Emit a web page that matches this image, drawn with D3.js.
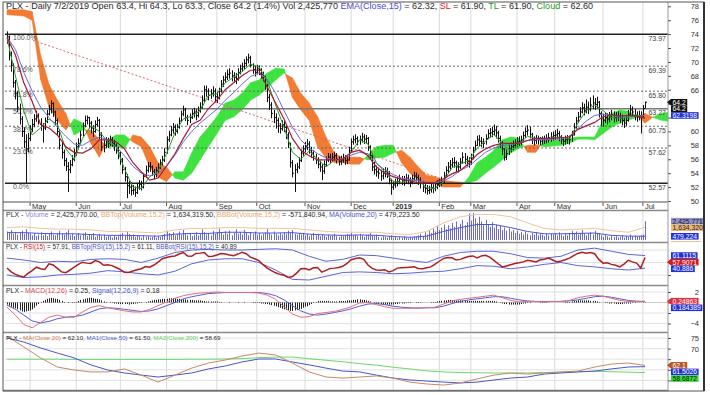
<!DOCTYPE html>
<html>
<head>
<meta charset="utf-8">
<title>PLX daily</title>
<script src="https://cdn.jsdelivr.net/npm/d3@7"></script>
<style>
  body { margin: 0; background: #fff; }
  svg { display: block; font-family: "Liberation Sans", Arial, sans-serif; }
</style>
</head>
<body>
<div id="chart"></div>
<script>
// PLX daily, 16 Apr 2018 - 2 Jul 2019. One value per trading day unless a step is noted.

var hi = [74.4,73.8,71.5,69.8,67.4,65.8,64.0,62.2,60.6,59.6,
59.8,60.9,61.8,62.5,63.0,62.6,61.9,61.2,62.0,63.1,
63.8,64.5,64.2,63.0,61.9,60.3,58.6,57.4,56.2,55.6,
55.9,56.6,57.5,58.4,59.0,60.1,61.3,62.3,62.3,62.1,
61.5,60.9,61.6,62.1,61.8,59.9,58.8,59.2,59.1,59.4,
59.2,58.8,58.3,57.8,57.2,56.2,54.9,53.9,52.9,52.7,
52.3,52.1,52.6,53.0,52.9,54.0,55.1,55.6,55.6,55.1,
54.6,54.9,55.4,56.0,56.5,57.6,59.3,60.1,60.8,61.2,
61.0,61.1,62.0,63.0,63.7,63.4,62.4,62.6,63.2,63.4,
63.2,63.6,64.2,65.2,66.6,66.6,66.2,66.1,66.5,66.2,
65.7,66.3,67.4,68.0,68.5,68.9,69.1,68.8,68.5,68.4,
69.1,69.6,69.9,70.4,70.8,71.2,70.9,69.8,69.4,69.6,
69.5,69.1,68.6,68.0,66.8,65.4,64.2,63.1,62.6,62.0,
61.2,61.6,61.5,60.8,59.9,58.4,55.9,55.3,55.5,56.3,
57.4,58.0,58.5,58.9,58.6,57.8,57.3,56.8,56.3,55.8,
55.3,55.8,56.4,56.9,56.8,56.9,57.1,56.9,56.4,56.5,
56.8,56.6,56.5,57.8,59.0,59.4,59.6,59.3,59.4,59.8,
59.6,59.5,59.2,58.0,56.7,55.6,55.1,54.8,54.5,54.7,
54.9,54.8,54.3,53.2,52.9,53.2,53.4,53.8,53.6,53.6,
53.9,53.8,53.4,53.8,54.2,54.1,53.8,53.4,52.9,52.5,
52.3,52.2,52.5,52.4,52.6,53.0,53.2,53.5,54.2,55.0,
55.6,55.9,56.2,56.3,55.8,55.6,56.2,57.0,56.9,56.5,
56.3,56.8,57.8,58.7,59.4,59.5,59.2,59.0,59.6,60.3,
60.5,60.7,61.0,60.8,60.1,59.4,58.6,57.6,57.4,58.1,
58.4,58.7,58.9,59.2,59.3,59.4,60.0,60.6,60.9,60.7,
59.8,59.3,59.5,59.4,59.2,59.3,59.4,59.6,59.8,59.9,
60.0,60.2,60.4,60.1,59.5,59.2,59.4,59.5,59.4,60.1,
61.2,62.1,62.8,63.5,64.2,64.0,64.6,64.3,64.9,65.2,
64.8,65.0,64.4,62.9,62.5,62.7,62.6,62.8,63.1,62.9,
62.8,62.9,62.7,62.4,62.0,62.3,63.1,63.8,63.6,63.2,
62.9,63.0,62.9,63.8,64.3];

var lo = [72.6,70.2,68.6,66.3,64.6,62.8,61.0,59.2,57.6,52.6,
57.0,58.6,59.9,60.6,61.4,61.0,60.1,58.4,60.2,61.2,
62.3,62.6,62.1,60.9,59.4,57.4,56.1,55.0,54.3,51.3,
54.0,55.0,55.7,56.5,57.4,58.2,59.3,60.6,61.0,60.4,
59.7,59.2,59.8,60.7,58.9,57.2,57.0,57.6,57.6,57.9,
57.8,57.2,56.8,56.0,55.2,53.9,52.8,50.4,51.0,50.8,
50.9,50.6,51.0,51.6,51.5,51.8,53.3,54.1,54.2,53.6,
53.1,53.4,54.0,54.6,55.1,55.6,56.8,58.5,59.3,59.7,
59.4,59.7,60.4,61.4,62.2,61.5,60.9,61.2,61.8,62.0,
61.6,62.0,62.7,63.3,64.2,65.0,64.5,64.7,65.0,64.3,
64.1,64.6,65.6,66.4,67.0,67.4,67.6,67.2,67.0,66.8,
67.3,68.2,68.6,68.9,69.4,69.8,69.2,68.3,67.9,68.2,
68.1,67.6,67.2,66.0,64.2,63.1,61.9,61.2,60.4,59.8,
59.7,60.1,59.9,58.9,57.6,54.8,53.4,51.3,54.0,54.6,
55.6,56.5,57.0,57.3,56.8,56.2,55.8,55.3,54.7,54.2,
53.0,53.9,55.0,55.6,55.4,55.6,55.8,55.4,55.1,55.2,
55.5,55.2,55.3,55.8,57.0,58.1,58.3,58.0,58.1,58.4,
58.2,58.3,57.2,56.0,54.3,53.8,53.5,53.2,52.9,53.1,
53.4,53.3,52.4,50.9,51.6,51.9,52.1,52.4,52.3,52.2,
52.5,52.4,52.0,52.4,52.9,52.8,52.3,51.8,51.3,51.1,
50.9,51.0,51.2,51.1,51.4,51.7,52.0,52.1,52.6,53.4,
54.0,54.4,54.8,54.8,54.2,54.1,54.6,55.4,55.3,55.0,
54.8,55.2,56.0,57.2,57.9,57.9,57.8,57.6,58.1,58.9,
59.1,59.2,59.4,59.0,58.4,57.6,56.6,55.8,55.9,56.6,
57.0,57.3,57.6,57.8,57.9,58.0,58.4,59.1,59.4,59.0,
58.2,58.0,58.2,58.1,58.0,58.1,58.2,58.3,58.4,58.5,
58.7,58.8,59.0,58.6,58.2,57.9,58.1,58.2,58.1,58.5,
59.4,60.4,61.2,62.0,62.6,62.3,62.6,62.5,62.9,63.2,
63.1,63.3,62.0,60.8,60.7,61.2,61.0,61.3,61.6,61.3,
61.4,61.5,61.2,60.9,60.5,60.8,61.4,62.3,62.1,61.6,
61.4,61.6,59.7,62.0,63.3];

var cl = [73.6,71.0,69.5,67.0,65.5,63.5,61.8,60.0,58.5,57.5,
59.0,60.3,61.0,61.8,62.2,61.5,60.8,60.5,61.5,62.5,
63.2,64.0,62.8,61.6,60.0,58.0,57.0,55.8,55.0,54.5,
55.2,56.0,56.8,57.8,58.3,59.5,60.8,61.6,62.0,61.2,
60.5,60.0,61.0,61.6,59.5,57.8,58.0,58.5,58.3,58.8,
58.3,58.0,57.5,56.9,56.0,54.5,53.5,52.2,52.0,51.5,
51.6,51.2,52.0,52.4,52.0,53.5,54.4,55.0,54.9,54.2,
53.8,54.4,54.8,55.5,55.9,57.0,58.8,59.5,60.2,60.6,
60.0,60.6,61.5,62.5,63.1,62.0,61.6,62.0,62.6,62.8,
62.3,63.0,63.5,64.5,66.0,65.8,65.2,65.5,65.8,65.0,
64.9,65.8,66.8,67.4,67.8,68.2,68.4,68.0,67.8,67.6,
68.5,69.0,69.3,69.8,70.3,70.6,69.5,68.9,68.5,69.0,
68.8,68.2,67.8,66.5,64.9,63.8,62.6,62.0,61.6,60.8,
60.4,61.0,60.6,59.5,58.3,55.5,54.0,54.5,54.9,55.8,
56.9,57.5,57.8,58.2,57.3,56.9,56.4,55.9,55.3,54.9,
54.3,55.2,55.9,56.3,56.0,56.3,56.5,56.0,55.7,55.9,
56.2,55.8,55.9,57.2,58.5,58.8,59.0,58.6,58.8,59.2,
58.9,59.0,57.8,56.5,54.9,54.5,54.2,54.0,53.6,54.0,
54.2,54.0,53.0,52.0,52.3,52.6,52.8,53.2,52.9,53.0,
53.3,53.0,52.7,53.2,53.6,53.4,53.0,52.5,52.0,51.8,
51.5,51.6,51.9,51.8,52.0,52.4,52.6,52.8,53.6,54.4,
54.9,55.2,55.5,55.5,54.9,54.9,55.6,56.3,56.0,55.7,
55.5,56.2,57.3,58.0,58.8,58.6,58.5,58.3,59.0,59.7,
59.8,60.0,60.2,59.8,59.0,58.3,57.5,56.3,56.8,57.5,
57.8,58.0,58.3,58.5,58.6,58.8,59.4,60.0,60.2,59.6,
58.8,58.7,58.9,58.8,58.6,58.8,58.8,59.0,59.1,59.2,
59.4,59.5,59.7,59.2,58.8,58.6,58.8,58.9,58.8,59.5,
60.6,61.5,62.1,62.8,63.4,63.0,63.5,63.2,63.8,64.1,
63.9,64.2,62.6,61.8,61.6,62.0,61.8,62.1,62.4,62.0,
62.1,62.2,61.9,61.6,61.2,61.6,62.5,63.1,62.8,62.3,
62.1,62.3,62.1,63.3,64.2];

// volume, millions of shares
var vol = [1.1,0.9,1.3,0.8,1.0,0.7,0.9,1.2,0.8,1.4,0.9,
0.8,0.6,0.9,0.5,0.7,1.0,0.6,0.8,0.5,0.9,1.1,0.7,0.6,0.9,1.2,0.8,0.7,1.0,1.3,0.6,0.8,0.5,
0.7,0.9,0.6,0.8,1.0,0.5,0.7,0.6,0.9,0.4,0.6,0.8,0.5,0.7,0.4,0.6,0.5,0.3,0.6,0.4,0.5,
0.7,0.9,0.6,1.1,0.8,0.5,0.7,0.4,0.6,0.5,0.3,0.6,0.4,0.5,0.3,0.4,0.6,0.3,0.5,0.4,0.6,
0.8,1.2,0.9,0.7,1.0,0.6,0.8,1.1,0.7,1.3,0.9,0.6,0.8,0.5,0.7,1.0,0.6,0.8,1.4,1.0,0.7,0.9,0.6,
1.2,0.8,1.0,1.5,0.9,0.7,1.1,0.8,1.2,0.6,0.9,1.4,0.8,1.0,0.7,1.3,0.9,0.6,1.0,
0.8,1.1,0.7,0.9,0.6,0.8,1.0,1.4,0.9,0.7,1.1,0.8,0.6,0.9,0.7,1.0,0.8,1.2,0.9,1.3,0.8,0.7,0.9,
0.7,0.9,0.6,0.8,0.5,0.7,0.9,0.6,0.8,0.5,0.7,0.6,0.4,0.7,0.5,0.6,0.8,0.5,0.4,0.6,0.5,
0.6,0.8,0.7,0.9,0.6,0.7,0.5,0.8,0.6,0.4,0.6,0.7,0.9,0.6,0.5,0.7,0.4,0.3,0.5,
0.4,0.3,0.5,0.6,0.3,0.4,0.2,0.4,0.3,0.5,0.3,0.2,0.4,0.3,0.5,0.4,0.6,0.8,0.5,1.0,0.7,
1.2,0.9,1.5,1.1,1.8,1.3,1.6,2.0,1.4,1.9,1.5,2.2,1.7,2.4,1.6,2.1,2.6,1.9,2.3,
3.4,2.5,3.5,2.8,2.2,3.0,2.4,1.9,2.6,2.0,1.7,2.3,1.6,2.0,1.4,1.8,1.3,1.6,1.2,1.5,1.1,
1.3,0.9,1.2,0.8,1.0,0.7,1.1,0.8,0.6,0.9,0.7,1.0,0.6,0.8,0.7,0.5,0.9,0.6,0.8,0.7,
0.9,0.6,1.0,0.7,0.5,0.8,0.6,0.9,1.2,0.8,1.1,0.7,0.9,1.3,0.8,0.6,0.9,1.0,0.7,1.2,0.8,0.9,
0.6,0.4,0.7,0.5,0.3,0.6,0.4,0.5,0.3,0.4,0.6,0.3,0.5,0.4,0.7,0.5,0.6,0.4,0.5,0.6,
0.7,2.43];

// main-panel indicators, every 4th trading day
var ema15 = [73.6,71.8,68.5,65.8,63.5,62.0,60.6,59.3,58.2,58.0,
58.7,59.2,58.8,57.8,56.5,55.0,54.0,53.6,54.0,55.0,
56.6,58.5,60.0,61.2,62.2,63.2,64.5,65.6,66.8,67.9,
68.4,67.5,65.5,63.0,60.6,58.8,57.6,56.8,56.2,55.9,
56.1,56.6,57.0,56.8,55.4,54.5,53.8,53.3,53.1,52.9,
52.7,52.6,52.9,53.5,54.4,55.0,56.0,57.0,57.6,58.0,
58.1,58.4,58.7,58.8,58.8,58.9,58.9,59.3,60.4,61.5,
62.3,62.5,62.3,62.1,62.1,62.2,62.32];
var slLine = [73.5,71.0,67.0,64.3,61.0,60.5,59.5,57.8,57.0,56.9,
57.5,58.8,58.8,58.5,57.5,55.5,54.2,53.0,53.3,55.0,
56.8,59.0,61.0,61.6,63.3,64.5,66.0,67.0,68.0,68.8,
68.8,66.4,64.1,61.8,59.0,57.3,56.5,55.9,55.9,55.9,
56.0,57.0,57.3,56.5,54.9,54.0,53.5,53.1,52.9,52.6,
52.6,52.7,53.2,53.9,54.4,55.4,56.7,57.5,58.0,58.3,
58.3,58.3,58.7,59.0,59.0,59.0,59.1,59.2,60.3,60.8,
61.3,62.1,62.4,62.2,62.3,62.2,61.9];
var tlLine = [73.5,68.0,63.0,59.5,60.5,61.8,61.0,57.5,56.0,59.0,
60.8,60.0,58.5,57.8,54.6,52.0,51.8,53.5,54.3,56.8,
59.8,61.8,62.2,63.0,65.2,65.4,67.0,67.8,68.6,69.7,
69.3,67.3,63.8,60.6,57.0,56.0,57.2,56.0,54.9,55.9,
56.0,57.0,58.8,58.2,55.5,54.2,52.8,52.7,53.0,53.0,
51.9,51.8,52.8,54.8,55.3,55.8,57.6,58.6,59.6,58.2,
57.2,58.2,59.3,59.0,58.8,59.1,59.2,58.9,61.2,63.0,
63.8,63.0,62.0,61.9,62.0,62.4,61.9];

// cloud spans, every 4th day, runs 12 days past the last bar
var cloudA = [76.8,76.7,76.6,76.0,67.5,63.5,61.6,60.2,61.8,61.2,
58.3,56.3,58.8,59.5,59.5,58.5,57.8,54.9,53.4,52.8,
54.2,54.2,56.9,59.2,60.6,62.1,64.1,64.5,65.5,67.0,
67.4,68.4,69.1,69.0,64.9,63.1,61.6,57.8,56.2,55.5,
55.5,55.3,55.3,56.6,57.8,58.0,58.0,55.5,54.0,53.0,
52.6,52.4,52.0,52.0,52.0,53.4,55.5,56.3,57.3,58.8,
59.2,59.0,57.0,57.0,58.8,58.8,58.8,59.0,59.2,59.2,
59.2,61.6,62.6,63.1,62.9,62.3,61.2,62.1,62.6,62.8];
var cloudB = [77.5,77.5,77.5,77.2,71.0,66.8,64.5,62.6,59.5,60.2,
60.2,58.8,57.8,57.8,57.6,59.5,59.2,57.8,55.5,54.9,
53.3,53.0,54.0,55.9,57.8,59.7,61.6,62.1,63.1,64.5,
65.2,66.2,67.4,68.4,67.7,65.5,64.1,62.1,59.2,56.9,
56.2,56.3,56.3,55.9,56.2,56.3,56.9,57.3,56.3,54.9,
53.7,53.5,53.0,52.8,52.7,52.6,53.0,54.0,54.9,55.9,
56.9,57.6,58.0,58.1,57.8,57.9,58.0,58.3,58.9,58.9,
58.8,59.7,60.6,61.2,61.6,62.0,62.6,62.0,61.6,61.4];

var trendline = [[12.4, 73.1], [209, 53.0]];

var fibPct = ["100.0%", "78.6%", "61.8%", "50.0%", "38.2%", "23.6%", "0.0%"];
var fibVal = [73.97, 69.39, 65.80, 63.27, 60.75, 57.62, 52.57];

// volume bands, every 8th day
var volTop = [1.6,1.7,1.5,1.4,1.4,1.3,1.1,1.1,1.0,0.9,1.3,1.5,1.5,1.6,1.6,1.5,1.5,1.5,1.3,1.1,
1.0,1.0,1.0,0.8,0.7,1.1,2.2,3.0,3.3,3.3,3.0,2.2,1.5,1.3,1.4,1.5,1.2,1.0,1.63];
var volMa = [0.95,0.95,0.85,0.8,0.8,0.7,0.6,0.6,0.55,0.5,0.75,0.85,0.85,1.0,1.0,0.9,0.9,0.95,0.75,0.65,
0.6,0.65,0.6,0.45,0.35,0.5,1.1,1.6,2.0,2.0,1.6,1.1,0.8,0.8,0.85,0.9,0.6,0.5,0.48];

// RSI(15) every 2nd day, its bands every 8th day
var rsi = [41.2,35.0,31.0,28.5,26.8,32.5,37.0,42.5,40.0,39.0,
48.0,46.0,40.5,35.0,33.8,38.0,42.5,47.0,50.5,49.0,
48.5,53.0,51.0,45.5,46.5,45.0,42.0,38.5,34.5,34.0,
36.5,38.5,40.0,43.5,42.5,46.0,50.5,56.0,58.0,59.5,
60.5,63.5,66.0,60.5,60.0,64.5,65.0,66.0,59.5,60.0,
62.0,64.5,63.5,62.0,61.0,63.5,66.5,64.0,58.5,56.0,
53.0,46.5,41.0,37.0,33.5,31.0,29.5,26.0,27.5,33.0,
40.0,40.5,38.0,41.5,42.0,34.5,37.5,40.5,41.0,42.0,
44.0,48.5,54.5,56.5,57.5,55.0,46.0,40.5,38.0,37.5,
38.5,35.0,37.0,41.0,41.5,42.0,42.5,43.0,40.5,40.0,
41.5,43.0,47.5,52.0,56.5,58.0,57.5,54.0,55.0,57.5,
59.5,60.5,57.5,60.5,61.5,58.5,53.5,48.0,43.0,44.5,
46.5,48.5,49.5,51.0,53.5,52.5,51.0,54.0,55.0,57.0,
54.0,51.0,52.5,54.5,57.0,61.0,64.5,66.5,65.0,66.0,
64.0,55.0,49.0,49.5,47.0,45.5,43.0,47.5,53.5,51.0,
49.0,41.2,57.9];
var rsiTop = [57,54,50,52,51,55,56,55,50,57,66,70,71,70,70,71,72,70,60,52,
55,62,61,57,53,50,60,66,68,68,64,58,57,60,70,73,68,63,61.11];
var rsiBot = [30,26,27,30,31,33,37,35,32,30,36,48,54,56,56,50,38,23,22,28,
34,35,34,32,33,35,36,40,45,44,40,43,47,50,45,43,40,38,40.89];

// MACD(12,26) and signal every 4th day, histogram daily
var macd = [-0.9,-2.4,-4.2,-4.8,-3.8,-2.8,-2.4,-2.8,-2.8,-1.8,
-0.9,-0.6,-1.0,-1.3,-1.6,-1.8,-1.8,-1.3,-0.6,0.1,
0.8,1.3,1.6,1.8,1.9,2.0,1.9,1.9,1.9,1.9,
1.8,1.4,0.6,-0.8,-2.2,-2.8,-2.7,-2.1,-1.9,-1.7,
-1.3,-0.8,-0.1,0.0,-0.4,-0.8,-1.1,-1.1,-1.1,-1.0,
-1.0,-0.9,-0.3,0.3,0.6,0.8,1.0,1.2,1.4,0.9,
0.4,0.1,0.2,0.2,0.1,0.2,0.2,0.4,0.9,1.2,
1.4,1.2,0.8,0.4,0.2,0.2,0.25];
var signal = [-0.5,-1.3,-2.4,-3.5,-3.9,-3.6,-3.1,-2.8,-2.7,-2.4,
-1.8,-1.2,-1.0,-1.1,-1.3,-1.5,-1.7,-1.6,-1.2,-0.6,
0.0,0.7,1.1,1.4,1.7,1.8,1.9,1.9,1.9,1.9,
1.9,1.7,1.3,0.5,-0.6,-1.6,-2.2,-2.4,-2.2,-1.9,
-1.6,-1.2,-0.7,-0.3,-0.2,-0.4,-0.7,-0.9,-1.0,-1.1,
-1.0,-1.0,-0.7,-0.2,0.2,0.5,0.7,0.9,1.1,1.1,
0.8,0.5,0.3,0.2,0.2,0.2,0.2,0.3,0.5,0.8,
1.1,1.2,1.0,0.7,0.4,0.25,0.18];
var macdHist = [-0.4,-0.6,-0.8,-1.0,-1.1,-1.3,-1.5,-1.7,-1.8,-1.7,
-1.6,-1.5,-1.3,-1.0,-0.6,-0.3,0.1,0.3,0.5,0.7,
0.8,0.9,0.8,0.7,0.7,0.5,0.3,0.1,0.0,-0.1,
0.0,-0.1,-0.1,0.1,0.3,0.5,0.6,0.7,0.8,0.9,
0.9,0.8,0.7,0.7,0.6,0.4,0.2,0.1,0.0,-0.1,
-0.1,-0.2,-0.2,-0.3,-0.3,-0.3,-0.3,-0.3,-0.4,-0.3,
-0.3,-0.2,-0.2,-0.1,-0.1,0.0,0.1,0.2,0.3,0.4,
0.5,0.5,0.6,0.6,0.7,0.7,0.7,0.8,0.8,0.8,
0.8,0.7,0.7,0.6,0.6,0.6,0.5,0.5,0.5,0.4,
0.4,0.4,0.4,0.3,0.3,0.2,0.2,0.2,0.2,0.2,
0.2,0.1,0.1,0.0,0.0,0.0,0.1,0.0,0.0,0.0,
-0.1,0.0,0.0,0.1,0.0,0.0,0.0,-0.1,-0.1,-0.1,
-0.1,-0.2,-0.2,-0.3,-0.3,-0.4,-0.5,-0.6,-0.7,-0.9,
-1.0,-1.2,-1.3,-1.4,-1.5,-1.6,-1.6,-1.5,-1.4,-1.3,
-1.2,-1.0,-0.8,-0.7,-0.5,-0.3,-0.1,0.1,0.3,0.3,
0.3,0.3,0.3,0.3,0.2,0.2,0.2,0.2,0.3,0.3,
0.3,0.3,0.4,0.4,0.4,0.5,0.5,0.6,0.6,0.5,
0.5,0.4,0.3,0.2,0.0,-0.1,-0.2,-0.3,-0.3,-0.4,
-0.4,-0.4,-0.4,-0.4,-0.4,-0.3,-0.3,-0.2,-0.2,-0.2,
-0.1,-0.1,-0.1,0.0,0.0,0.1,0.1,0.1,0.0,0.0,
0.0,0.0,0.1,0.1,0.1,0.2,0.3,0.3,0.4,0.4,
0.5,0.5,0.5,0.5,0.4,0.4,0.4,0.4,0.3,0.3,
0.3,0.3,0.3,0.3,0.3,0.3,0.3,0.3,0.3,0.3,
0.3,0.3,0.3,0.2,0.0,-0.1,-0.2,-0.3,-0.3,-0.4,
-0.4,-0.4,-0.4,-0.4,-0.4,-0.3,-0.2,-0.2,-0.1,-0.1,
0.0,0.0,0.0,0.0,-0.1,-0.1,-0.1,-0.1,0.0,0.0,
0.0,0.0,0.0,0.0,0.0,0.0,0.1,0.1,0.1,0.2,
0.3,0.3,0.4,0.4,0.4,0.4,0.4,0.4,0.3,0.3,
0.3,0.2,0.1,0.0,0.0,-0.1,-0.1,-0.2,-0.2,-0.2,
-0.3,-0.3,-0.3,-0.3,-0.2,-0.2,-0.2,-0.2,-0.1,-0.1,
-0.05,-0.02,0.02,0.05,0.07];

// moving averages of close, every 8th day
var ma20 = [75.8,70.8,65.6,61.3,59.9,59.0,59.0,60.4,57.5,54.2,57.5,60.8,63.2,64.6,66.5,67.9,67.0,63.2,59.0,56.6,
56.1,56.6,57.1,56.1,54.2,53.3,52.8,53.8,55.7,57.5,58.5,58.0,58.5,59.0,59.4,61.3,62.7,63.2,62.1];
var ma50 = [75.0,73.1,70.3,67.9,65.6,62.3,59.9,58.5,57.5,56.6,57.5,58.5,60.4,61.8,63.7,65.1,65.1,63.7,62.3,60.8,
59.4,59.0,57.5,56.1,55.2,54.7,54.2,53.8,54.2,55.2,56.1,56.6,58.0,58.5,59.0,59.4,60.4,61.3,61.5];
var ma200 = [65.0,65.0,65.0,65.0,64.9,64.9,64.9,64.9,64.9,64.9,64.9,65.0,65.0,65.1,65.3,65.7,66.0,66.0,65.2,64.5,
63.8,62.9,62.2,61.2,60.4,59.5,59.0,58.7,58.6,58.5,58.5,58.5,58.7,58.9,59.1,59.3,59.1,58.9,58.69];

// first trading day of each month, as bar index
var monthIdx = [11, 33, 54, 76, 100, 119, 142, 164, 184, 206, 221, 243, 261, 284, 303];
var monthLab = ["May", "Jun", "Jul", "Aug", "Sep", "Oct", "Nov", "Dec", "2019", "Feb", "Mar", "Apr", "May", "Jun", "Jul"];

var mainTicks = d3.range(50, 79, 2);
var rsiTicks = [30];
var macdTicks = [2, 0, -2, -4];
var maTicks = [75, 70, 65, 60, 55];

// ------------------------------------------------------------------

var svg = d3.select("#chart").append("svg").attr("width", 710).attr("height", 395);
var L = 5, R = 668;
var x = d3.scaleLinear().domain([0, 304]).range([7, 645]);

function makePanel(id, top, bot, dom, rng) {
  svg.append("clipPath").attr("id", id).append("rect")
    .attr("x", L).attr("y", top).attr("width", R - L).attr("height", bot - top);
  svg.append("clipPath").attr("id", id + "R").append("rect")
    .attr("x", R - 3).attr("y", top).attr("width", 40).attr("height", bot - top);
  return { id: id, top: top, bot: bot,
    y: d3.scaleLinear().domain(dom).range(rng),
    g: svg.append("g").attr("clip-path", "url(#" + id + ")") };
}

var pMain = makePanel("cMain", 3, 202, [50, 78], [201, 6.3]);
var pVol = makePanel("cVol", 211, 242, [0, 4], [240, 209]);
var pRsi = makePanel("cRsi", 243, 285, [30, 70], [275, 250]);
var pMacd = makePanel("cMacd", 286, 332, [-4, 2], [323.5, 292]);
var pMa = makePanel("cMa", 334, 390, [55, 75], [380.4, 338]);
var panels = [pMain, pVol, pRsi, pMacd, pMa];

// grid
panels.forEach(function(p) {
  p.g.selectAll(".vg").data(monthIdx).enter().append("line")
    .attr("x1", function(d) { return x(d); }).attr("x2", function(d) { return x(d); })
    .attr("y1", p.top).attr("y2", p.bot)
    .attr("stroke", "#dadada").attr("stroke-width", 1);
});
[[pRsi, [30, 50, 70]], [pMacd, macdTicks], [pMa, maTicks]].forEach(function(a) {
  a[0].g.selectAll(".hg").data(a[1]).enter().append("line")
    .attr("x1", L).attr("x2", R)
    .attr("y1", function(d) { return a[0].y(d); }).attr("y2", function(d) { return a[0].y(d); })
    .attr("stroke", "#e2e2e2").attr("stroke-width", 1);
});

function stepPts(arr, step) {
  return arr.map(function(v, i) { return [i * step, v]; });
}
function drawLine(p, data, color, w, dash) {
  p.g.append("path").datum(data)
    .attr("fill", "none").attr("stroke", color).attr("stroke-width", w)
    .attr("stroke-dasharray", dash || null)
    .attr("d", d3.line().x(function(d) { return x(d[0]); }).y(function(d) { return p.y(d[1]); }));
}

// cloud, green while A is above B, orange otherwise
var cloudG = pMain.g.append("g");
for (var i = 0; i < cloudA.length - 1; i++) {
  var t0 = i * 4, t1 = (i + 1) * 4;
  var a0 = cloudA[i], a1 = cloudA[i + 1], b0 = cloudB[i], b1 = cloudB[i + 1];
  var d0 = a0 - b0, d1 = a1 - b1, polys = [];
  if (d0 * d1 < 0) {
    var f = d0 / (d0 - d1), tc = t0 + f * 4, vc = a0 + f * (a1 - a0);
    polys.push({ p: [[t0, a0], [tc, vc], [t0, b0]], up: d0 > 0 });
    polys.push({ p: [[tc, vc], [t1, a1], [t1, b1]], up: d1 > 0 });
  } else {
    polys.push({ p: [[t0, a0], [t1, a1], [t1, b1], [t0, b0]], up: d0 + d1 >= 0 });
  }
  polys.forEach(function(q) {
    var c = q.up ? "#3ee23e" : "#f27a32";
    cloudG.append("path")
      .attr("d", "M" + q.p.map(function(d) { return x(d[0]) + "," + pMain.y(d[1]); }).join("L") + "Z")
      .attr("fill", c).attr("stroke", c).attr("stroke-width", 0.6);
  });
}

// fibonacci levels
fibVal.forEach(function(v, k) {
  var solid = k === 0 || k === 6, mid = k === 3;
  pMain.g.append("line").attr("x1", L).attr("x2", R)
    .attr("y1", pMain.y(v)).attr("y2", pMain.y(v))
    .attr("stroke", solid ? "#222" : (mid ? "#777" : "#666"))
    .attr("stroke-width", solid || mid ? 1.5 : 1)
    .attr("stroke-dasharray", solid || mid ? null : "2,2");
  pMain.g.append("text").attr("x", 13).attr("y", pMain.y(v) + 5.5)
    .attr("font-size", 7).attr("fill", "#555").text(fibPct[k]);
  pMain.g.append("text").attr("x", 666).attr("y", pMain.y(v) + 6.5)
    .attr("text-anchor", "end").attr("font-size", 7).attr("fill", "#444").text(v.toFixed(2));
});

drawLine(pMain, trendline, "#d86a6a", 1, "2,2");

// price bars
var bars = pMain.g.append("g").attr("stroke", "#111").attr("stroke-width", 1);
cl.forEach(function(c, i) {
  var xi = Math.round(x(i)) + 0.5;
  bars.append("line").attr("x1", xi).attr("x2", xi).attr("y1", pMain.y(hi[i])).attr("y2", pMain.y(lo[i]));
  bars.append("line").attr("x1", xi).attr("x2", xi + 1.5).attr("y1", pMain.y(c)).attr("y2", pMain.y(c));
});

drawLine(pMain, stepPts(tlLine, 4), "#2a9a2a", 1);
drawLine(pMain, stepPts(ema15, 4), "#6a6ad8", 1);
drawLine(pMain, stepPts(slLine, 4), "#a51c3a", 1.2);

// volume
vol.forEach(function(v, i) {
  var xi = Math.round(x(i)) + 0.5;
  pVol.g.append("line").attr("x1", xi).attr("x2", xi)
    .attr("y1", pVol.y(0)).attr("y2", pVol.y(v))
    .attr("stroke", "#6c6cd0").attr("stroke-width", 1);
});
drawLine(pVol, stepPts(volTop, 8), "#f0c49a", 1);
drawLine(pVol, stepPts(volMa, 8), "#4a56d0", 1);

// RSI
drawLine(pRsi, stepPts(rsiTop, 8), "#5a66d8", 1);
drawLine(pRsi, stepPts(rsiBot, 8), "#5a66d8", 1);
drawLine(pRsi, stepPts(rsi, 2), "#b01e24", 1.5);

// MACD
pMacd.g.append("line").attr("x1", L).attr("x2", R)
  .attr("y1", pMacd.y(0)).attr("y2", pMacd.y(0)).attr("stroke", "#ccc");
macdHist.forEach(function(h, i) {
  var xi = Math.round(x(i)) + 0.5;
  pMacd.g.append("line").attr("x1", xi).attr("x2", xi)
    .attr("y1", pMacd.y(0)).attr("y2", pMacd.y(h))
    .attr("stroke", "#222").attr("stroke-width", 1);
});
drawLine(pMacd, stepPts(signal, 4), "#5a5ad6", 1);
drawLine(pMacd, stepPts(macd, 4), "#e0707e", 1);

// moving averages
drawLine(pMa, stepPts(ma200, 8), "#6ad86a", 1);
drawLine(pMa, stepPts(ma50, 8), "#4a56c8", 1);
drawLine(pMa, stepPts(ma20, 8), "#c88866", 1);

// headers: font size chosen so each line ends where the original one does
function header(yb, width, parts) {
  var t = svg.append("text").attr("x", 6).attr("y", yb).attr("font-size", 7);
  parts.forEach(function(p) { t.append("tspan").attr("fill", p[1]).text(p[0]); });
  var natural = t.node().getComputedTextLength();
  t.attr("font-size", (7 * width / natural).toFixed(2));
}
var dk = "#2a2a2a";
header(9, 588, [["PLX - Daily 7/2/2019 Open 63.4, Hi 64.3, Lo 63.3, Close 64.2 (1.4%) Vol 2,425,770 ", dk],
  ["EMA(Close,15)", "#4a4ad8"], [" = 62.32, ", dk], ["SL", "#d02030"], [" = 61.90, ", dk],
  ["TL", "#1f9a1f"], [" = 61.90, ", dk], ["Cloud", "#1f9a1f"], [" = 62.60", dk]]);
header(216.5, 414, [["PLX - ", dk], ["Volume", "#8a8ad8"], [" = 2,425,770.00, ", dk],
  ["BBTop(Volume,15,2)", "#eba868"], [" = 1,634,319.50, ", dk],
  ["BBBot(Volume,15,2)", "#eba868"], [" = -571,840.94, ", dk],
  ["MA(Volume,20)", "#4a56d0"], [" = 479,223.50", dk]]);
header(249, 231, [["PLX - ", dk], ["RSI(15)", "#d02020"], [" = 57.91, ", dk],
  ["BBTop(RSI(15),15,2)", "#4a56d0"], [" = 61.11, ", dk],
  ["BBBot(RSI(15),15,2)", "#4a56d0"], [" = 40.89", dk]]);
header(292.5, 154, [["PLX - ", dk], ["MACD(12,26)", "#e04a5a"], [" = 0.25, ", dk],
  ["Signal(12,26,9)", "#4a56d0"], [" = 0.18", dk]]);
header(340, 215, [["PLX - ", dk], ["MA(Close,20)", "#d07a4a"], [" = 62.10, ", dk],
  ["MA1(Close,50)", "#4a56d0"], [" = 61.50, ", dk],
  ["MA2(Close,200)", "#5ad05a"], [" = 58.69", dk]]);

// month axis
var xa = svg.append("g");
monthIdx.forEach(function(d, k) {
  var xi = x(d);
  xa.append("line").attr("x1", xi).attr("x2", xi).attr("y1", 202).attr("y2", 206)
    .attr("stroke", "#555");
  xa.append("text").attr("x", xi + 2).attr("y", 208.5).attr("font-size", 7.5)
    .attr("fill", "#333").attr("font-weight", monthLab[k] === "2019" ? "bold" : null)
    .text(monthLab[k]);
});

// frame and separators
[202, 210.5, 242.5, 285.5, 332.5, 390.5].forEach(function(yv) {
  svg.append("line").attr("x1", 3).attr("x2", R).attr("y1", yv).attr("y2", yv)
    .attr("stroke", "#8a8a8a").attr("stroke-width", 1.6);
});
svg.append("line").attr("x1", R).attr("x2", R).attr("y1", 2).attr("y2", 391)
  .attr("stroke", "#9a9a9a").attr("stroke-width", 1);
svg.append("rect").attr("x", 3).attr("y", 2).attr("width", 701).attr("height", 389)
  .attr("fill", "none").attr("stroke", "#555").attr("stroke-width", 1);
svg.append("line").attr("x1", 704).attr("x2", 704).attr("y1", 2).attr("y2", 391)
  .attr("stroke", "#333").attr("stroke-width", 2);

// last-value tags: place first, so the axis can leave room for them
function placeTags(p, list) {
  var items = list.map(function(d) {
    return { y: p.y(d[0]), t: d[1], bg: d[2], fg: d[3], arrow: d[4] };
  });
  for (var k = 1; k < items.length; k++) {
    if (items[k].y < items[k - 1].y + 6.6) items[k].y = items[k - 1].y + 6.6;
  }
  return items;
}
var tagMain = placeTags(pMain, [[64.2, "64.2", "#111", "#fff", true], [64.2, "64.2", "#111", "#fff", false],
  [62.3198, "62.3198", "#1f30d8", "#fff", false]]);
var tagVol = placeTags(pVol, [[2.425771, "2,425,771", "#8e8ec8", "#222", false], [1.63432, "1,634,320", "#f0b878", "#222", false],
  [0.479224, "479,224", "#1f30d8", "#fff", false], [-0.571841, "-571,841", "#f0b878", "#222", false]]);
var tagRsi = placeTags(pRsi, [[61.1115, "61.1115", "#1f30d8", "#fff", false], [57.9071, "57.9071", "#d41a1a", "#fff", true],
  [40.886, "40.886", "#1f30d8", "#fff", false]]);
var tagMacd = placeTags(pMacd, [[0.2486, "0.24863", "#e03040", "#fff", true], [0.184389, "0.184389", "#1f30d8", "#fff", false]]);
var tagMa = placeTags(pMa, [[62.1, "62.1", "#b5582e", "#fff", true], [61.5026, "61.5026", "#1f30d8", "#fff", false],
  [58.6872, "58.6872", "#3ad83a", "#111", false]]);

// right axes, tick labels that a tag would cover are left out
[[pMain, mainTicks, tagMain], [pRsi, rsiTicks, tagRsi], [pMacd, macdTicks, tagMacd], [pMa, maTicks, tagMa]].forEach(function(a) {
  var free = a[1].filter(function(t) {
    return a[2].every(function(tg) { return Math.abs(a[0].y(t) - tg.y) > 6.5; });
  });
  var ax = svg.append("g").attr("transform", "translate(" + R + ",0)")
    .call(d3.axisRight(a[0].y).tickValues(a[1]).tickSize(3).tickFormat(d3.format("d")));
  ax.select(".domain").remove();
  ax.selectAll("line").attr("stroke", "#555");
  ax.selectAll(".tick").filter(function(d) { return free.indexOf(d) < 0; }).select("text").remove();
  ax.selectAll("text").attr("x", 31).style("text-anchor", "end")
    .attr("font-size", 7.5).attr("fill", "#333").attr("font-family", null);
});

function drawTags(p, items) {
  var g = svg.append("g").attr("clip-path", "url(#" + p.id + "R)");
  items.forEach(function(d) {
    var tg = g.append("g");
    var tx = tg.append("text").attr("x", 672.5).attr("y", d.y + 2.5)
      .attr("font-size", 6.8).attr("fill", d.fg).text(d.t);
    var w = Math.min(tx.node().getComputedTextLength() + 3, 32);
    tg.insert("rect", "text").attr("x", 671).attr("y", d.y - 3.3)
      .attr("width", w).attr("height", 6.6).attr("fill", d.bg);
    if (d.arrow) {
      tg.insert("path", "text").attr("fill", d.bg)
        .attr("d", "M667," + d.y + "L671," + (d.y - 3.3) + "L671," + (d.y + 3.3) + "Z");
    }
  });
}
drawTags(pMain, tagMain);
drawTags(pVol, tagVol);
drawTags(pRsi, tagRsi);
drawTags(pMacd, tagMacd);
drawTags(pMa, tagMa);
</script>
</body>
</html>
